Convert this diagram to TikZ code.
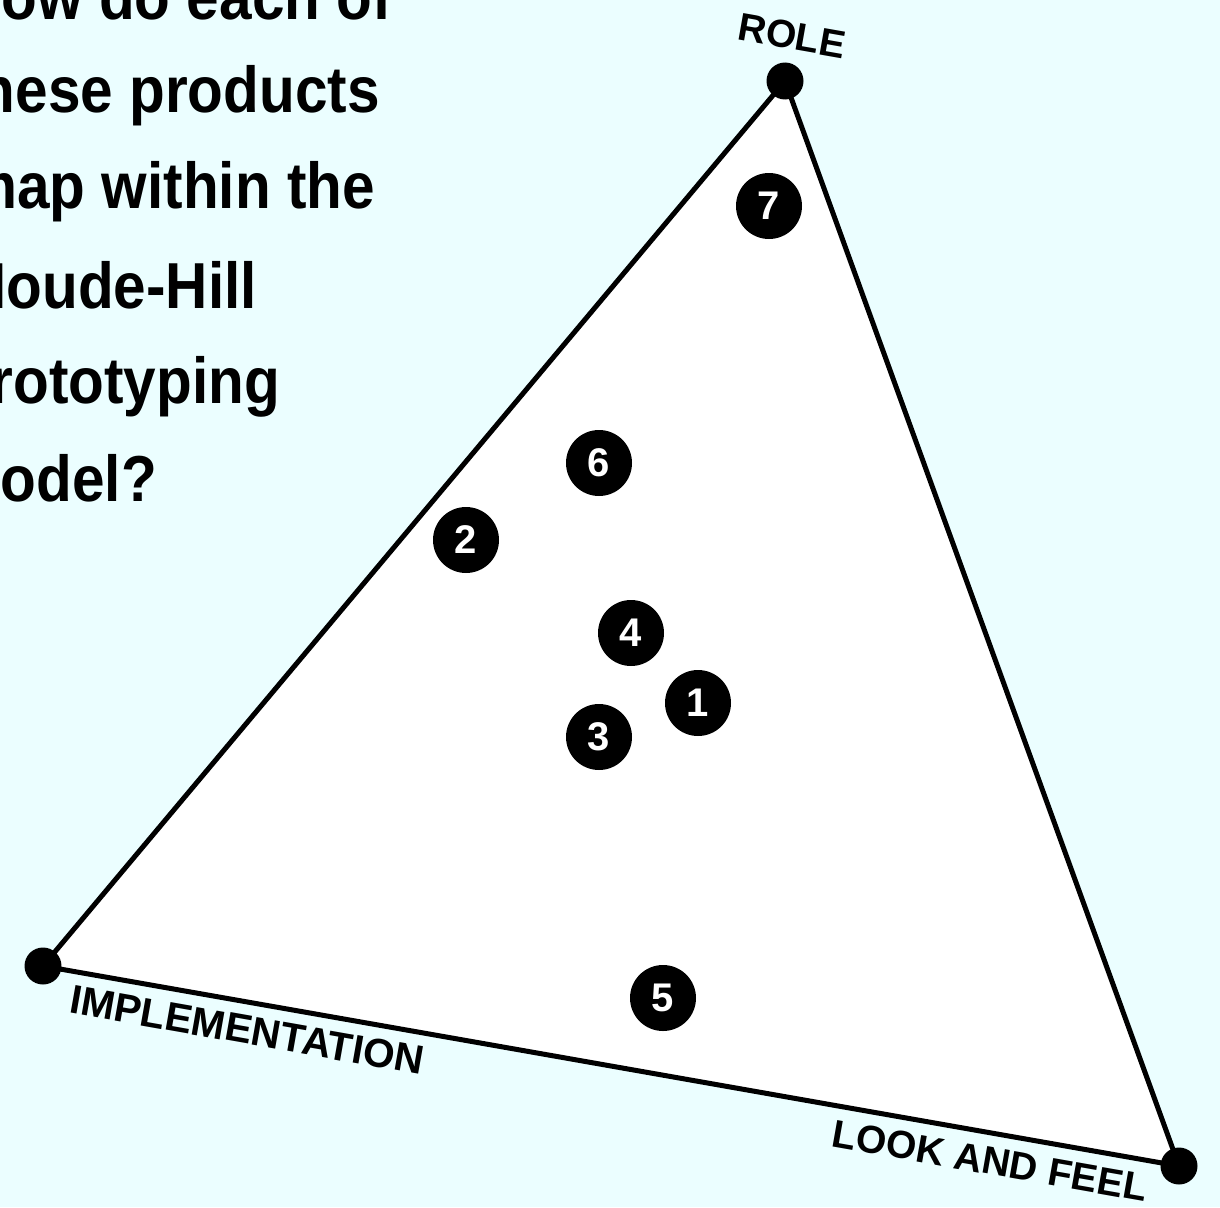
\documentclass[tikz,border=0pt]{standalone}
\usepackage{fontspec}
\setmainfont{Liberation Sans}
\newfontfamily\titlefont[FakeStretch=0.9]{Liberation Sans}
\definecolor{bgc}{HTML}{EBFEFF}
\begin{document}
\begin{tikzpicture}[x=1pt,y=-1pt,
  vdot/.style={circle,fill=black,minimum size=37pt,inner sep=0pt},
  numdot/.style={circle,fill=black,text=white,minimum size=66pt,inner sep=0pt,
    font=\bfseries\fontsize{40}{40}\selectfont},
  axislabel/.style={font=\bfseries\fontsize{39}{39}\selectfont,rotate=-10,inner sep=0pt},
  titleline/.style={anchor=base east,inner sep=0pt,
    font=\titlefont\bfseries\fontsize{65}{65}\selectfont},
  edge/.style={line width=5pt,line join=round}]
\useasboundingbox (0,0) rectangle (1220,1207);
\clip (0,0) rectangle (1220,1207);
\fill[bgc] (0,0) rectangle (1220,1207);
% title
\node[titleline] (t1) at (392,20) {How do each of};
\node[titleline] (t2) at (380,112) {these products};
\node[titleline] (t3) at (375,208) {map within the};
\node[titleline] (t4) at (257,308) {Houde-Hill};
\node[titleline] (t5) at (280,403) {Prototyping};
\node[titleline] (t6) at (157,501) {model?};
% triangle
\coordinate (R) at (785,81);
\coordinate (I) at (43,966);
\coordinate (F) at (1179,1166);
\draw[edge,fill=white] (R) -- (I) -- (F) -- cycle;
\node[vdot] (Rdot) at (R) {};
\node[vdot] (Idot) at (I) {};
\node[vdot] (Fdot) at (F) {};
% axis labels
\node[axislabel] (lrole) at (792,36) {ROLE};
\node[axislabel,font=\bfseries\fontsize{40.5}{40.5}\selectfont] (limpl) at (247,1030) {IMPLEMENTATION};
\node[axislabel] (llook) at (990,1161) {LOOK AND FEEL};
% products
\node[numdot] (p1) at (698,703) {1};
\node[numdot] (p2) at (466,540) {2};
\node[numdot] (p3) at (599,737) {3};
\node[numdot] (p4) at (631,633) {4};
\node[numdot] (p5) at (663,998) {5};
\node[numdot] (p6) at (599,463) {6};
\node[numdot] (p7) at (769,206) {7};
\end{tikzpicture}
\end{document}
